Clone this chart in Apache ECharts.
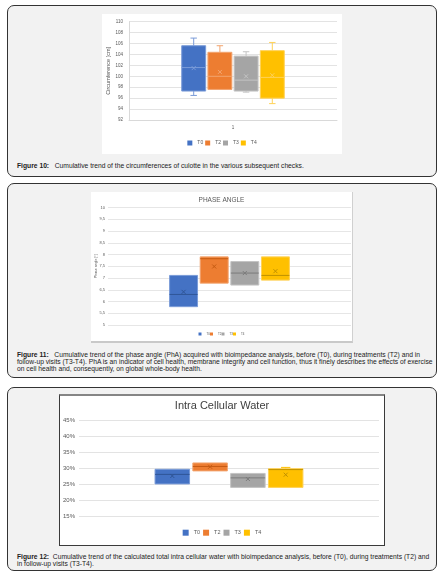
<!DOCTYPE html>
<html>
<head>
<meta charset="utf-8">
<script src="https://cdn.jsdelivr.net/npm/echarts@6/dist/echarts.min.js"></script>
<style>
  body { margin: 0; background: #fff; font-family: "Liberation Sans", Arial, sans-serif; }
  .panel { position: absolute; left: 7px; width: 430px; box-sizing: border-box; border: 1.5px solid #333; border-radius: 7px; background: #f2f2f2; }
  .chart { position: absolute; background: #fff; }
  .caption { position: absolute; left: 17px; font-size: 6.72px; line-height: 7px; color: #222; white-space: nowrap; }
  .caption b { font-weight: bold; }
</style>
</head>
<body>
<div class="panel" style="top:5px;height:172px"></div>
<div class="panel" style="top:183px;height:195px"></div>
<div class="panel" style="top:387px;height:184px"></div>

<div id="fig10" class="chart" style="left:102px;top:14px;width:240px;height:140px"></div>
<div id="fig11" class="chart" style="left:91px;top:192px;width:261px;height:149px;border-bottom:2px solid #c9c9c9;border-right:1px solid #d0d0d0"></div>
<div id="fig12" class="chart" style="left:59px;top:394px;width:324px;height:149px;border:1px solid #3a3a3a;border-top:2px solid #858585"></div>

<div class="caption" style="top:161.5px"><b>Figure 10:</b>&nbsp;&nbsp; Cumulative trend of the circumferences of culotte in the various subsequent checks.</div>
<div class="caption" style="top:351px"><b>Figure 11:</b>&nbsp;&nbsp; Cumulative trend of the phase angle (PhA) acquired with bioimpedance analysis, before (T0), during treatments (T2) and in<br>follow-up visits (T3-T4). PhA is an indicator of cell health, membrane integrity and cell function, thus it finely describes the effects of exercise<br>on cell health and, consequently, on global whole-body health.</div>
<div class="caption" style="top:552.5px"><b>Figure 12:</b>&nbsp; Cumulative trend of the calculated total intra cellular water with bioimpedance analysis, before (T0), during treatments (T2) and<br>in follow-up visits (T3-T4).</div>

<script>
var FONT = '"Liberation Sans", Arial, sans-serif';

var categories = ['T0', 'T2', 'T3', 'T4'];
var colors = ['#4472C4', '#ED7D31', '#A5A5A5', '#FFC000'];
var darkColors = ['#2F5597', '#C55A11', '#7B7B7B', '#BF9000'];
var lightColors = ['#7A9BD8', '#F2A46F', '#C4C4C4', '#FFD257'];

// each row: [low whisker, q1, median, q3, high whisker]
var circBoxes = [
  [96.5, 97.3, 101.6, 105.6, 107.0],
  [97.6, 97.6, 100.0, 104.4, 105.6],
  [97.1, 97.3, 99.3, 103.7, 104.5],
  [95.0, 96.0, 99.8, 104.7, 106.2]
];
var circMeans = [101.5, 100.8, 100.0, 100.2];

var phaBoxes = [
  [5.78, 5.78, 6.30, 7.11, 7.11],
  [6.78, 6.78, 7.82, 7.90, 7.90],
  [6.70, 6.70, 7.21, 7.70, 7.70],
  [6.91, 6.91, 7.11, 7.90, 7.90]
];
var phaMeans = [6.41, 7.49, 7.21, 7.29];

var icwBoxes = [
  [25.1, 25.1, 28.1, 29.7, 29.7],
  [29.2, 29.2, 30.6, 31.7, 31.7],
  [24.0, 24.0, 27.0, 28.4, 28.4],
  [24.0, 24.0, 29.6, 29.9, 30.3]
];
var icwMeans = [27.6, 30.5, 26.65, 28.0];

function boxRenderer(tone) {
  return function (params, api) {
    var k = params.seriesIndex;
    var band = api.size([1, 0])[0];
    var cx = api.coord([api.value(0), api.value(3)])[0] + (k - 1.5) * 0.126 * band;
    var hw = band * 0.0575;
    var cap = hw * 0.27;
    function py(dim) { return api.coord([api.value(0), api.value(dim)])[1]; }
    var low = py(1), q1 = py(2), med = py(3), q3 = py(4), high = py(5), mean = py(6);
    function ln(x1, y1, x2, y2, c) {
      return { type: 'line', shape: { x1: x1, y1: y1, x2: x2, y2: y2 }, style: { stroke: c, lineWidth: 1 } };
    }
    var wc = tone.whisker[k];
    var kids = [];
    if (q3 - high > 0.5) {
      kids.push(ln(cx, high, cx, q3, wc), ln(cx - cap, high, cx + cap, high, wc));
    }
    if (low - q1 > 0.5) {
      kids.push(ln(cx, q1, cx, low, wc), ln(cx - cap, low, cx + cap, low, wc));
    }
    kids.push({
      type: 'rect',
      shape: { x: cx - hw, y: q3, width: hw * 2, height: q1 - q3 },
      style: { fill: colors[k], stroke: tone.edge[k], lineWidth: 1 }
    });
    kids.push(ln(cx - hw, med, cx + hw, med, tone.median[k]));
    var m = tone.mark;
    kids.push(ln(cx - m, mean - m, cx + m, mean + m, tone.median[k]));
    kids.push(ln(cx - m, mean + m, cx + m, mean - m, tone.median[k]));
    return { type: 'group', children: kids };
  };
}

function buildOption(cfg) {
  var opt = {
    animation: false,
    textStyle: { fontFamily: FONT },
    legend: {
      data: categories,
      top: cfg.legendTop,
      left: 'center',
      icon: 'rect',
      itemWidth: cfg.legendIcon,
      itemHeight: cfg.legendIcon,
      itemGap: cfg.legendGap,
      padding: 0,
      textStyle: { fontSize: cfg.legendFont, color: '#595959', fontFamily: FONT }
    },
    grid: Object.assign({ containLabel: false, outerBoundsMode: 'none' }, cfg.grid),
    xAxis: {
      type: 'category',
      data: ['1'],
      axisTick: { show: false },
      axisLine: { show: cfg.showXLabel, lineStyle: { color: '#d9d9d9' } },
      axisLabel: { show: cfg.showXLabel, fontSize: cfg.labelFont, color: '#595959', margin: 5 },
      splitLine: { show: false }
    },
    yAxis: {
      type: 'value',
      min: cfg.min,
      max: cfg.max,
      interval: cfg.interval,
      name: cfg.yName || '',
      nameLocation: 'middle',
      nameGap: cfg.nameGap || 10,
      nameMoveOverlap: false,
      nameTextStyle: { fontSize: cfg.nameFont || 5, color: '#595959', fontFamily: FONT },
      axisLine: { show: cfg.showYLine, lineStyle: { color: '#d9d9d9' } },
      axisTick: { show: false },
      axisLabel: { fontSize: cfg.labelFont, color: '#595959', margin: cfg.labelMargin, formatter: cfg.fmt },
      splitLine: { lineStyle: { color: cfg.gridColor, width: 1 } }
    },
    series: categories.map(function (name, k) {
      return {
        name: name,
        type: 'custom',
        renderItem: boxRenderer(cfg.tone),
        itemStyle: { color: colors[k] },
        encode: { x: 0, y: [1, 2, 3, 4, 5, 6] },
        data: [[0].concat(cfg.boxes[k], [cfg.means[k]])]
      };
    })
  };
  if (cfg.title) {
    opt.title = {
      text: cfg.title,
      left: 'center',
      top: cfg.titleTop,
      padding: 0,
      textStyle: { fontSize: cfg.titleFont, fontWeight: 'normal', color: cfg.titleColor, fontFamily: FONT }
    };
  }
  return opt;
}

var lightTone = { whisker: lightColors, edge: lightColors, median: lightColors, mark: 2 };
var darkTone = { whisker: colors, edge: lightColors, median: darkColors, mark: 2 };

var chart10 = echarts.init(document.getElementById('fig10'));
chart10.setOption(buildOption({
  boxes: circBoxes, means: circMeans, min: 92, max: 110, interval: 2,
  grid: { left: 27, right: 5, top: 7.7, bottom: 34 },
  yName: 'Circumference [cm]', nameGap: 18, nameFont: 5.5,
  labelFont: 4.5, labelMargin: 6, showXLabel: true, showYLine: true,
  gridColor: '#e3e3e3', tone: lightTone,
  legendTop: 126.5, legendIcon: 5, legendGap: 2, legendFont: 5
}));

var chart11 = echarts.init(document.getElementById('fig11'));
chart11.setOption(buildOption({
  boxes: phaBoxes, means: phaMeans, min: 5, max: 10, interval: 0.5,
  grid: { left: 17, right: 1, top: 15.5, bottom: 16 },
  title: 'PHASE ANGLE', titleTop: 4.5, titleFont: 6.5, titleColor: '#595959',
  yName: 'Phase angle [°]', nameGap: 10, nameFont: 3.5,
  labelFont: 4, labelMargin: 3, showXLabel: false, showYLine: false,
  fmt: function (v) { return String(v).replace('.', ','); },
  gridColor: '#e6e6e6', tone: darkTone,
  legendTop: 140.5, legendIcon: 3, legendGap: 0, legendFont: 3
}));

var chart12 = echarts.init(document.getElementById('fig12'));
chart12.setOption(buildOption({
  boxes: icwBoxes, means: icwMeans, min: 15, max: 45, interval: 5,
  grid: { left: 19, right: 5, top: 24.7, bottom: 29 },
  title: 'Intra Cellular Water', titleTop: 4, titleFont: 11, titleColor: '#404040',
  labelFont: 6, labelMargin: 4, showXLabel: false, showYLine: false,
  fmt: '{value}%',
  gridColor: '#e3e3e3', tone: darkTone,
  legendTop: 133.7, legendIcon: 6, legendGap: 3, legendFont: 5.5
}));
</script>
</body>
</html>
